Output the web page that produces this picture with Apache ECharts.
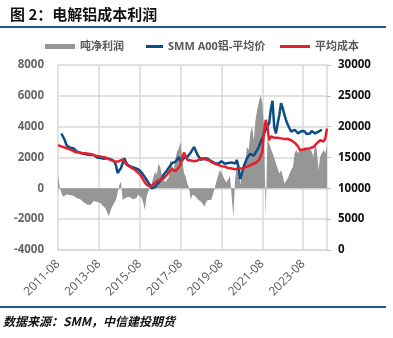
<!DOCTYPE html>
<html><head><meta charset="utf-8">
<script src="https://cdn.jsdelivr.net/npm/echarts@6/dist/echarts.min.js"></script>
<style>html,body{margin:0;padding:0;background:#fff}#c{width:393px;height:338px}</style>
</head><body><div id="c"></div>
<script>
// monthly, 2011-08 .. 2024-10
const startYear = 2011, startMonth = 8, monthCount = 159;
const xTickLabels = ['2011-08','2013-08','2015-08','2017-08','2019-08','2021-08','2023-08'];
const leftTicks = [-4000,-2000,0,2000,4000,6000,8000];
const rightTicks = [0,5000,10000,15000,20000,25000,30000];

// 吨净利润 (yuan/t), left axis
const profit = [800,100,-300,-540,-450,-400,-500,-430,-520,-480,
-560,-620,-650,-700,-820,-900,-970,-1050,-1000,-1080,
-950,-820,-760,-880,-930,-970,-1100,-1200,-1300,-1600,
-1800,-1400,-1150,-950,-760,-300,200,430,-760,-650,
-600,-520,-540,-620,-700,-760,-650,-420,-320,-600,
-900,-1400,-540,-200,0,300,700,1080,900,1600,
1400,900,540,400,550,700,1840,1500,1200,1950,
2400,2600,3000,1800,1000,750,300,0,-760,-400,
-300,-540,-700,-800,-870,-1000,-1190,-900,-760,-800,
-760,-400,0,430,800,1190,1000,970,540,400,
600,800,700,-1840,500,1500,1840,200,970,1190,
1600,2700,2480,3600,4000,3130,4430,5080,5600,6050,
5500,4000,-1840,3200,2920,2600,2270,2000,1620,1300,
970,1190,800,320,500,650,970,1200,1400,2270,
2480,2270,2480,2590,2500,2700,2800,2590,2650,2400,
2050,2920,2500,1190,2050,2300,2480,2270,2810];

// SMM A00铝-平均价 (yuan/t), right axis
const price = [null,null,18900,18600,17800,17000,16900,16600,16400,16500,
16200,16000,16100,15800,15900,15600,15800,15500,15700,15400,
15300,15400,15200,15000,15100,14900,15000,14800,14900,14900,
14600,14700,14500,14400,13800,12500,12900,13300,13400,14900,
14200,13800,13900,13500,13400,13300,13400,13100,13000,12600,
12200,11900,11400,11100,10500,10000,10300,10200,10600,10500,
11200,11600,12200,12500,12900,13200,13700,14100,13900,14300,
14600,15100,14300,14600,14900,14800,15100,15400,15800,16300,
16700,16000,15400,15000,14600,14800,14900,14700,14800,14600,
14400,14300,14100,14300,14000,14100,14400,14300,14000,14200,
14100,14400,14200,14300,14000,14600,13500,11500,12400,13500,
14200,14900,15200,15600,15700,15300,15400,16200,16800,17500,
18100,18900,19500,20100,20500,22800,24200,20000,18900,20500,
21900,23800,23000,21900,21000,20300,19700,19200,19000,19500,
19200,18900,18900,19300,19000,19200,18800,19100,18900,19300,
19600,18900,19000,19200,19100,19500,null,null,null];

// 平均成本 (yuan/t), right axis
const cost = [17000,16900,16800,16700,16600,16500,16400,16300,16200,16000,
15900,15900,15800,15800,15700,15800,15700,15600,15600,15500,
15500,15400,15300,15400,15200,15200,15100,15000,15000,14800,
14700,14600,14500,14400,14300,14400,14400,14600,14700,14300,
13900,13600,13500,13300,13200,13000,12800,12600,12300,11900,
11400,11000,10600,10400,10300,10400,10600,10900,11100,11300,
11400,11500,11600,11800,12200,12600,12800,13100,13000,12800,
12900,13400,13900,15000,15800,15200,14600,14700,14500,14600,
14400,14300,14500,14800,14900,14900,14700,14600,14600,14400,
14300,14300,14000,13900,13800,13700,13600,13600,13500,13400,
13300,13300,13200,13100,13100,13200,13200,13100,13200,13300,
13400,13500,13600,13800,13900,14000,14100,14300,14600,15200,
15900,19200,21100,20000,17800,18400,18300,18200,18100,18200,
18000,18100,18100,18000,17900,18000,17900,17800,17600,17400,
17300,16800,16200,16200,16300,16300,16400,16500,16500,16600,
16700,17000,17300,17500,17800,17700,17600,18100,19700];

const months = [];
for (let i = 0; i < monthCount; i++) {
  const t = startYear * 12 + (startMonth - 1) + i;
  const y = Math.floor(t / 12), m = t % 12 + 1;
  months.push(y + '-' + (m < 10 ? '0' + m : '' + m));
}

const FONT = '"Open Sans","Noto Sans CJK SC",sans-serif';
const CJK = '"Noto Sans CJK SC",sans-serif';
const chart = echarts.init(document.getElementById('c'), null, {renderer: 'canvas'});
const showTick = (idx, val) => xTickLabels.indexOf(val) >= 0;

chart.setOption({
  animation: false,
  backgroundColor: '#fff',
  graphic: [
    {type: 'text', left: 10, top: 7, style: {text: '图 2：电解铝成本利润', font: 'bold 15px ' + CJK, fill: '#111'}},
    {type: 'rect', shape: {x: 0, y: 26, width: 386, height: 2}, style: {fill: '#1f5a8e'}},
    {type: 'rect', shape: {x: 0, y: 306, width: 386, height: 2}, style: {fill: '#1f5a8e'}},
    {type: 'text', left: 3, top: 315, style: {text: '数据来源：SMM，中信建投期货', font: 'italic bold 12px ' + CJK, fill: '#111'}}
  ],
  legend: [
    {data: [{name: '吨净利润', icon: 'rect'}], left: 40, top: 36, itemWidth: 30, itemHeight: 5, itemGap: 3,
     textStyle: {fontSize: 11, fontWeight: 'bold', color: '#595959', fontFamily: FONT}},
    {data: [{name: 'SMM A00铝-平均价', icon: 'rect'}], left: 141, top: 36, itemWidth: 17, itemHeight: 3,
     textStyle: {fontSize: 11, fontWeight: 'bold', color: '#595959', fontFamily: FONT}},
    {data: [{name: '平均成本', icon: 'rect'}], left: 275, top: 36, itemWidth: 30, itemHeight: 3,
     textStyle: {fontSize: 11, fontWeight: 'bold', color: '#595959', fontFamily: FONT}}
  ],
  grid: {left: 58, right: 66, top: 65, bottom: 88, containLabel: false},
  xAxis: {
    type: 'category', data: months, boundaryGap: false,
    axisLine: {show: true, onZero: false, lineStyle: {color: '#d9d9d9', width: 1.5}},
    axisTick: {show: false},
    axisLabel: {interval: 0, formatter: v => xTickLabels.indexOf(v) >= 0 ? v : '', rotate: 45, margin: 12,
      fontSize: 12, color: '#595959', fontFamily: FONT},
    splitLine: {show: true, interval: showTick, lineStyle: {color: '#d9d9d9', width: 1.5}}
  },
  yAxis: [
    {type: 'value', min: leftTicks[0], max: leftTicks[leftTicks.length - 1], interval: 2000,
     axisLine: {show: false}, axisTick: {show: false},
     axisLabel: {margin: 14, fontSize: 11.5, fontWeight: 'bold', color: '#666', fontFamily: FONT, formatter: v => String(v)},
     splitLine: {show: true, lineStyle: {color: '#d9d9d9', width: 1.5}}},
    {type: 'value', min: rightTicks[0], max: rightTicks[rightTicks.length - 1], interval: 5000, position: 'right',
     axisLine: {show: true, lineStyle: {color: '#d9d9d9', width: 1.5}},
     axisTick: {show: true, length: 4, lineStyle: {color: '#bfbfbf'}},
     axisLabel: {margin: 11, fontSize: 11.5, fontWeight: 'bold', color: '#111', fontFamily: FONT, formatter: v => String(v)},
     splitLine: {show: false}}
  ],
  series: [
    {name: '吨净利润', type: 'line', yAxisIndex: 0, data: profit, symbol: 'none', showSymbol: false,
     lineStyle: {width: 0, color: '#969696'}, itemStyle: {color: '#969696'},
     areaStyle: {color: '#969696', opacity: 1}, z: 1},
    {name: 'SMM A00铝-平均价', type: 'line', yAxisIndex: 1, data: price, symbol: 'none', showSymbol: false,
     lineStyle: {width: 2.5, color: '#0c4d86'}, itemStyle: {color: '#0c4d86'}, z: 3},
    {name: '平均成本', type: 'line', yAxisIndex: 1, data: cost, symbol: 'none', showSymbol: false,
     lineStyle: {width: 2.5, color: '#e2202c'}, itemStyle: {color: '#e2202c'}, z: 4}
  ]
});
</script></body></html>
